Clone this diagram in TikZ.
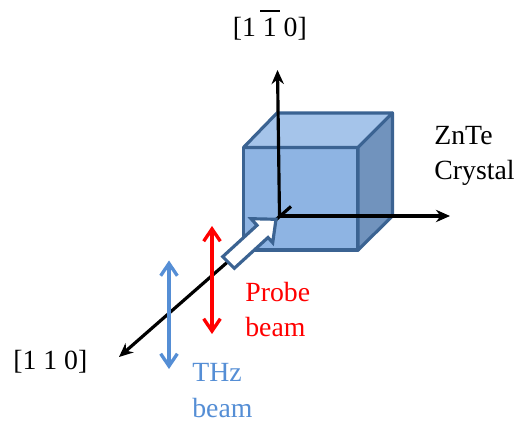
\documentclass[tikz,border=0pt]{standalone}
\usepackage{fontspec}
\setmainfont{Liberation Serif}
\usetikzlibrary{arrows.meta}
\definecolor{cubeedge}{HTML}{3B6392}
\definecolor{cubefront}{HTML}{8EB4E3}
\definecolor{cubetop}{HTML}{A5C4EA}
\definecolor{cubeside}{HTML}{7193BD}
\definecolor{thzblue}{HTML}{558ED5}
\newcommand{\baronenum}{\makebox[0pt][l]{\hspace{-0.1em}\rule[0.9em]{0.7em}{0.09em}}1}
\tikzset{
    cubeface/.style={draw=cubeedge, line width=1.8pt, line join=round},
    axisline/.style={-{Stealth[length=8pt,width=7pt]}, line width=1.8pt},
    beamline/.style={{Straight Barb[length=7pt,width=9.5pt]}-{Straight Barb[length=7pt,width=9.5pt]}, line width=1.9pt},
    lbl/.style={font=\fontsize{15.8}{20}\selectfont, inner sep=0pt, align=left}
}
\begin{document}
\begin{tikzpicture}[x=0.02cm, y=-0.02cm]
    \useasboundingbox (0,0) rectangle (516,421);

    \coordinate (A) at (243.5,147.5);
    \coordinate (B) at (358,147.5);
    \coordinate (C) at (358,250);
    \coordinate (D) at (243.5,250);
    \coordinate (E) at (277,113);
    \coordinate (F) at (392.5,113);
    \coordinate (G) at (392.5,216);

    \coordinate (O) at (279.5,216);
    \coordinate (Up) at (277.5,70);
    \coordinate (Rt) at (450,216);
    \coordinate (Bk) at (291,206.5);
    \coordinate (Fr) at (119,357);

    \draw[cubeface, fill=cubefront] (A) -- (B) -- (C) -- (D) -- cycle;
    \draw[cubeface, fill=cubetop] (A) -- (E) -- (F) -- (B) -- cycle;
    \draw[cubeface, fill=cubeside] (B) -- (F) -- (G) -- (C) -- cycle;

    \draw[axisline] (O) -- (Up);
    \draw[axisline] (O) -- (Rt);
    \draw[axisline] (Bk) -- (Fr);

    % pump arrow
    \draw[cubeface, fill=white, line join=miter]
        (222.7,256.7) -- (257,225.3) -- (251,218.7) -- (276,219.3)
        -- (272.7,242.7) -- (268,237.5) -- (234.3,268.3) -- cycle;

    \coordinate (P1) at (212,226);
    \coordinate (P2) at (212,334);
    \coordinate (T1) at (169,260.5);
    \coordinate (T2) at (169,369);
    \draw[beamline, red] (P1) -- (P2);
    \draw[beamline, thzblue] (T1) -- (T2);

    \node[lbl, anchor=base west] (toplabel) at (232.5,37) {[1 \baronenum{} 0]};
    \node[lbl, anchor=base west] (frontlabel) at (13,369) {[1 1 0]};
    \node[lbl, anchor=base west] (crystal) at (434,180) {ZnTe\\Crystal};
    \node[lbl, anchor=base west, text=red] (probe) at (245,337) {Probe\\beam};
    \node[lbl, anchor=base west, text=thzblue] (thz) at (192,417) {THz\\beam};
\end{tikzpicture}
\end{document}
